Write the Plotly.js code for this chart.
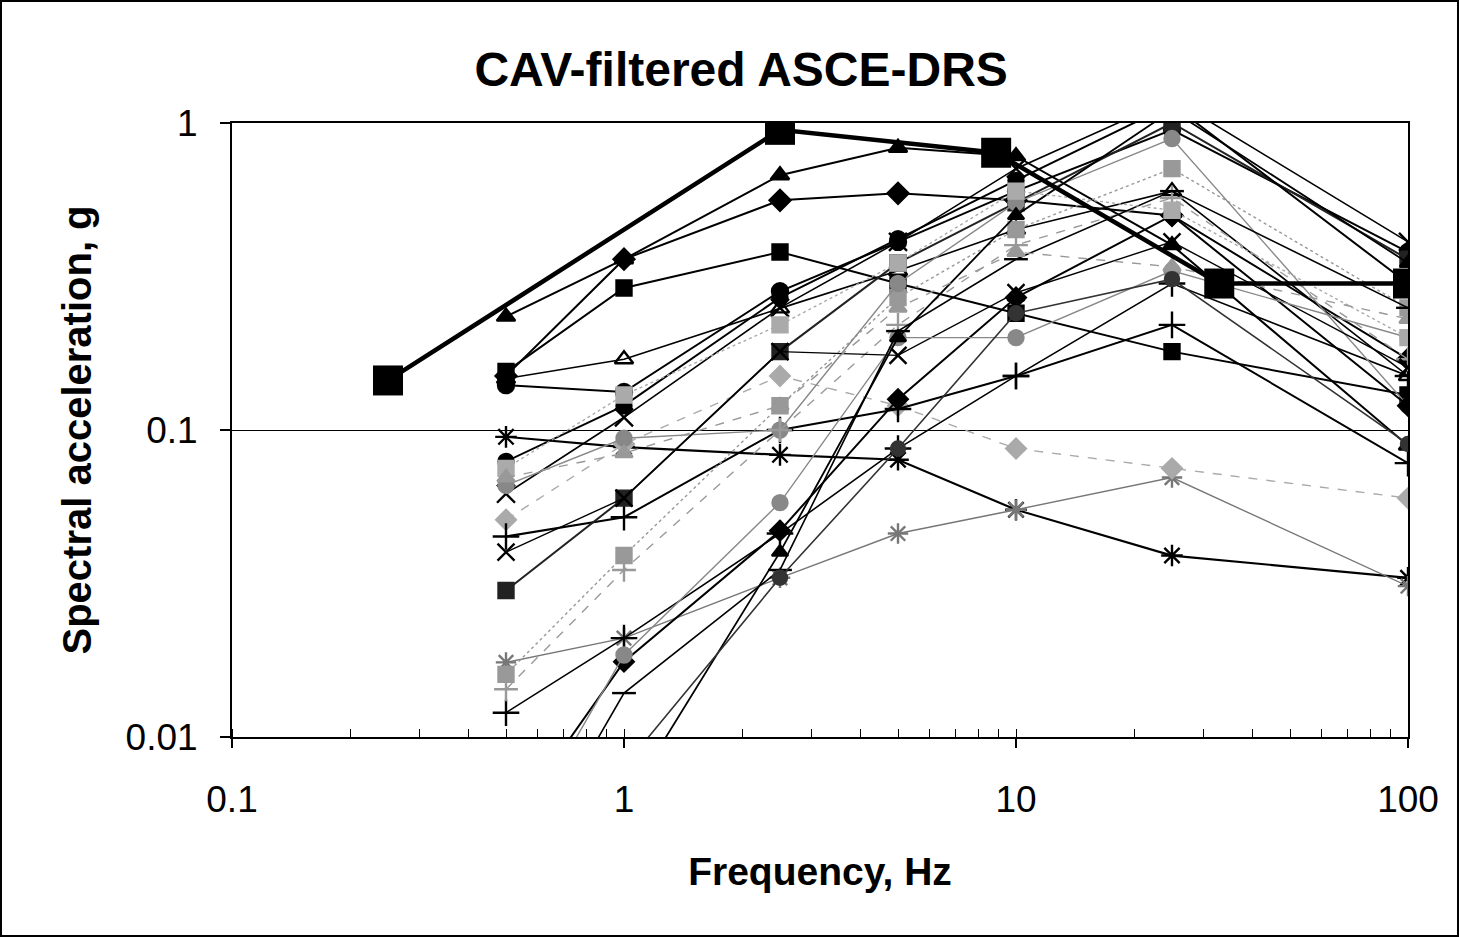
<!DOCTYPE html>
<html>
<head>
<meta charset="utf-8">
<script src="https://cdn.plot.ly/plotly-3.0.1.min.js"></script>
<style>
  html, body { margin: 0; padding: 0; background: #fff; }
  #chart { width: 1455px; height: 933px; border: 2px solid #000; }
</style>
</head>
<body>
<div id="chart"></div>
<script>
// ---- data ----
const freq = [0.5, 1, 2.5, 5, 10, 25, 100];

const drsFreq = [0.25, 2.5, 8.9, 33, 100];
const drsSa   = [0.145, 0.95, 0.80, 0.30, 0.30];

const s01 = [0.234, 0.36, 0.676, 0.83, 0.78, 0.40, 0.089];
const s02 = [0.15, 0.36, 0.56, 0.59, 0.56, 0.50, 0.17];
const s03 = [0.155, 0.29, 0.38, 0.30, 0.24, 0.18, 0.13];
const s04 = [0.14, 0.133, 0.283, 0.41, 0.60, 0.95, 0.38];
const s05 = [0.147, 0.17, 0.249, 0.33, 0.45, 0.60, 0.15];
const s06 = [0.095, 0.088, 0.083, 0.080, 0.055, 0.039, 0.033];
const s07 = [0.0175, 0.021, 0.033, 0.046, 0.055, 0.070, 0.031];
const s08 = [0.051, 0.09, 0.15, 0.12, 0.087, 0.075, 0.060];
const s09 = [0.045, 0.052, 0.10, 0.117, 0.15, 0.22, 0.078];
const s10 = [0.012, 0.021, 0.046, 0.087, 0.15, 0.30, 0.15];
const s11 = [0.030, 0.060, 0.18, 0.35, 0.55, 1.0, 0.36];
const s12 = [0.062, 0.11, 0.25, 0.41, 0.71, 1.2, 0.41];
const s13 = [0.079, 0.12, 0.27, 0.42, 0.65, 1.15, 0.30];
const s14 = [0.016, 0.039, 0.12, 0.27, 0.45, 0.71, 0.25];
const s15 = [0.066, 0.094, 0.10, 0.30, 0.55, 0.89, 0.12];
const s16 = [0.0143, 0.035, 0.10, 0.22, 0.40, 0.57, 0.17];
const s17 = [0.040, 0.060, 0.18, 0.175, 0.28, 0.41, 0.16];
const s18 = [0.005, 0.0176, 0.047, 0.126, 0.27, 0.50, 0.12];
const s19 = [0.004, 0.0185, 0.058, 0.20, 0.20, 0.33, 0.20];
const s20 = [0.003, 0.0139, 0.035, 0.21, 0.36, 0.60, 0.25];
const s21 = [0.002, 0.006, 0.040, 0.20, 0.50, 1.1, 0.35];
const s22 = [0.075, 0.13, 0.22, 0.35, 0.60, 0.52, 0.20];
const s23 = [0.070, 0.084, 0.12, 0.25, 0.38, 0.34, 0.23];
const s24 = [0.0015, 0.008, 0.033, 0.087, 0.24, 0.31, 0.09];

const titleText = "CAV-filtered ASCE-DRS";
const xTitle = "Frequency, Hz";
const yTitle = "Spectral acceleration, g";
const xTickVals = [0.1, 1, 10, 100];
const xTickText = ["0.1", "1", "10", "100"];
const yTickVals = [0.01, 0.1, 1];
const yTickText = ["0.01", "0.1", "1"];

// ---- styles ----
const series = [
  [s01, 'triangle-up', '#000', 16, 'solid', 2],
  [s02, 'diamond', '#000', 16, 'solid', 2],
  [s03, 'square', '#000', 15, 'solid', 2],
  [s04, 'circle', '#000', 16, 'solid', 2],
  [s05, 'triangle-up-open', '#000', 16, 'solid', 1.6],
  [s06, 'asterisk-open', '#000', 18, 'solid', 2.2],
  [s07, 'asterisk-open', '#777', 17, 'solid', 1.4],
  [s08, 'diamond', '#aaa', 15, 'dash', 1.4],
  [s09, 'cross-thin-open', '#000', 19, 'solid', 2],
  [s10, 'cross-thin-open', '#000', 19, 'solid', 1.6],
  [s11, 'square', '#222', 15, 'solid', 2],
  [s12, 'x-thin-open', '#000', 18, 'solid', 1.6],
  [s13, 'circle', '#000', 15, 'solid', 2],
  [s14, 'square', '#999', 15, 'dot', 1.4],
  [s15, 'circle', '#888', 15, 'solid', 1.4],
  [s16, 'cross-thin-open', '#999', 17, 'dash', 1.4],
  [s17, 'x-thin-open', '#000', 17, 'solid', 1.4],
  [s18, 'diamond', '#000', 15, 'solid', 2],
  [s19, 'circle', '#888', 15, 'solid', 1.4],
  [s20, 'line-ew-open', '#000', 17, 'solid', 1.6],
  [s21, 'triangle-up', '#000', 14, 'solid', 1.8],
  [s22, 'square', '#aaa', 15, 'dot', 1.4],
  [s23, 'triangle-up', '#999', 15, 'dash', 1.4],
  [s24, 'circle', '#333', 14, 'solid', 1.6]
];

const traces = series.map((s, i) => ({
  x: freq, y: s[0], type: 'scatter', mode: 'lines+markers',
  name: 'Record ' + (i + 1),
  line: {color: s[2], width: s[5], dash: s[4]},
  marker: {symbol: s[1], size: s[3], color: s[2], line: {color: s[2], width: 2.4}},
  cliponaxis: true
}));

traces.push({
  x: drsFreq, y: drsSa, type: 'scatter', mode: 'lines+markers',
  name: 'ASCE-DRS',
  line: {color: '#000', width: 4.5},
  marker: {symbol: 'square', size: 30, color: '#000'}
});

const font = "Arial, 'Liberation Sans', sans-serif";

const layout = {
  width: 1455, height: 933,
  paper_bgcolor: '#fff', plot_bgcolor: '#fff',
  showlegend: false,
  margin: {l: 230, r: 49, t: 121, b: 198},
  title: {text: '<b>' + titleText + '</b>', font: {family: font, size: 48, color: '#000'},
          x: 0.508, xanchor: 'center', y: 0.928, yanchor: 'middle'},
  xaxis: {
    type: 'log', range: [-1, 2],
    tickmode: 'array', tickvals: xTickVals, ticktext: xTickText,
    ticks: 'outside', ticklen: 9, tickwidth: 1.5, tickcolor: '#000',
    ticklabelstandoff: 20,
    minor: {ticks: 'inside', ticklen: 8, tickcolor: '#000', tickwidth: 1, dtick: 'D1', showgrid: false},
    showline: true, linecolor: '#000', linewidth: 2, mirror: true,
    showgrid: false, zeroline: false,
    tickfont: {family: font, size: 37, color: '#000'},
    title: {text: '<b>' + xTitle + '</b>', font: {family: font, size: 39, color: '#000'}, standoff: 38}
  },
  yaxis: {
    type: 'log', range: [-2, 0],
    tickmode: 'array', tickvals: yTickVals, ticktext: yTickText,
    ticks: 'outside', ticklen: 10, tickwidth: 1.5, tickcolor: '#000',
    ticklabelstandoff: 15,
    showline: true, linecolor: '#000', linewidth: 2, mirror: true,
    showgrid: true, gridcolor: '#000', gridwidth: 1, zeroline: false,
    tickfont: {family: font, size: 37, color: '#000'},
    title: {text: '<b>' + yTitle + '</b>', font: {family: font, size: 40, color: '#000'}, standoff: 22}
  }
};

Plotly.newPlot('chart', traces, layout, {displayModeBar: false, staticPlot: true});
</script>
</body>
</html>
